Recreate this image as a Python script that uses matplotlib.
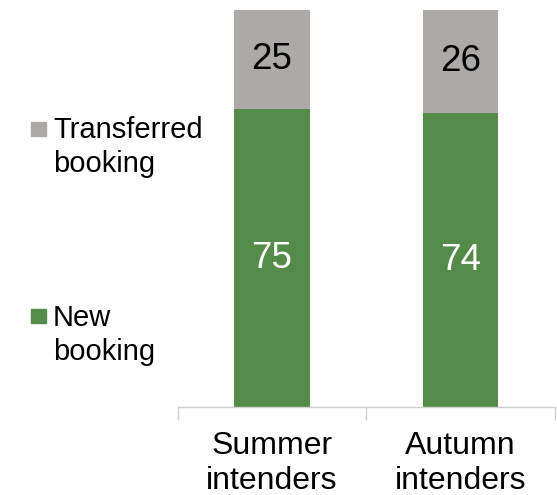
import matplotlib
matplotlib.use("Agg")
import matplotlib.pyplot as plt
from matplotlib.patches import Rectangle

plt.rcParams["font.family"] = ["Liberation Sans", "DejaVu Sans"]

# ── Data ──────────────────────────────────────────────────────────────────────
CATEGORIES = ["Summer\nintenders", "Autumn\nintenders"]
NEW_BOOKING = [75, 74]
TRANSFERRED = [25, 26]
SERIES_LABELS = ["New\nbooking", "Transferred\nbooking"]

GREEN = "#548B48"
GREY = "#ADA9A9"
AXIS_GREY = "#D0D0D0"

W, H = 557, 495
fig = plt.figure(figsize=(W / 100, H / 100), dpi=100)
ax = fig.add_axes([177.5 / W, 88 / H, 377.5 / W, 397 / H])

x = list(range(len(CATEGORIES)))
ax.bar(x, NEW_BOOKING, width=0.40, color=GREEN, zorder=2)
ax.bar(x, TRANSFERRED, width=0.40, bottom=NEW_BOOKING, color=GREY, zorder=2)

# value labels centred in each segment
for xi, n, t in zip(x, NEW_BOOKING, TRANSFERRED):
    ax.text(xi, n / 2, f"{n}", ha="center", va="center", color="white", fontsize=26.5)
    ax.text(xi, n + t / 2, f"{t}", ha="center", va="center", color="black", fontsize=26.5)

ax.set_xlim(-0.5, len(CATEGORIES) - 0.5)
ax.set_ylim(0, 100)
ax.set_yticks([])
for s in ["top", "right", "left"]:
    ax.spines[s].set_visible(False)
ax.spines["bottom"].set_color(AXIS_GREY)
ax.spines["bottom"].set_linewidth(1.0)

ax.set_xticks(x)
ax.set_xticklabels(CATEGORIES, fontsize=23, linespacing=1.22)
ax.tick_params(axis="x", which="major", length=0, pad=17.5)
ax.set_xticks([i - 0.5 for i in range(len(CATEGORIES) + 1)], minor=True)
ax.tick_params(axis="x", which="minor", length=9, color=AXIS_GREY, width=1.0)

# legend drawn by hand: square beside the first line of each label
# (label, colour, square top in px, text top in px)
legend_items = [(SERIES_LABELS[1], GREY, 121.5, 116.5), (SERIES_LABELS[0], GREEN, 308.5, 304)]
for label, color, sq_top, txt_top in legend_items:
    fig.patches.append(Rectangle((31 / W, 1 - (sq_top + 14.5) / H), 14.7 / W, 14.5 / H,
                                 transform=fig.transFigure, color=color))
    fig.text(53 / W, 1 - txt_top / H, label, ha="left", va="top",
             fontsize=21, linespacing=1.27)

fig.savefig("out.png", dpi=100)
